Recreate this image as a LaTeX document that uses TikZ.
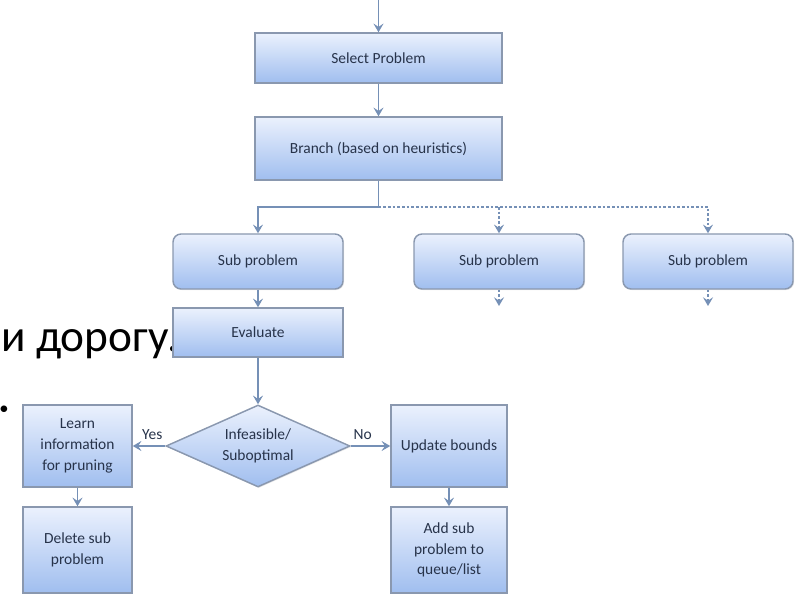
\documentclass[tikz,border=0pt]{standalone}
\usepackage{fontspec}
\setmainfont{Carlito}
\usetikzlibrary{arrows.meta,shapes.geometric,shadows}
\definecolor{boxtop}{HTML}{EBF1FD}
\definecolor{boxbot}{HTML}{A0BEEF}
\definecolor{boxedge}{HTML}{8A98AF}
\definecolor{txt}{HTML}{27334A}
\definecolor{conncol}{HTML}{7590B6}
\begin{document}
\begin{tikzpicture}[x=0.75pt,y=-0.75pt,
  boxbase/.style={draw=boxedge, line width=1.1pt, top color=boxtop, bottom color=boxbot,
    text=txt, font=\fontsize{11.6}{15.5}\selectfont, align=center, inner sep=2pt,
    drop shadow={opacity=0.2,shadow xshift=0.8pt,shadow yshift=-0.8pt}},
  rbox/.style={boxbase, rectangle},
  roundbox/.style={boxbase, rectangle, rounded corners=6pt},
  decision/.style={boxbase, diamond, shape aspect=2.2, inner sep=0pt},
  conn/.style={draw=conncol, line width=1.2pt},
  arr/.style={conn, -{Stealth[length=6.5pt,width=7.5pt,inset=2.5pt]}},
  dsh/.style={dash pattern=on 2pt off 1.5pt},
  lbl/.style={text=txt, font=\fontsize{11.6}{14}\selectfont, inner sep=2pt, yshift=2pt}
]
\useasboundingbox (0,0) rectangle (796,595);

% slide text fragments
\node[anchor=base west, font=\fontsize{34}{38}\selectfont, inner sep=0pt] (rus) at (1,351) {и дорогу.};
\node[font=\fontsize{14}{14}\selectfont, inner sep=0pt] (bul) at (4,410) {•};

% boxes
\node[rbox, minimum width=185.25pt, minimum height=37.5pt] (sel) at (378.5,58) {Select Problem};
\node[rbox, minimum width=185.25pt, minimum height=47.25pt] (br) at (378.5,148.5) {Branch (based on heuristics)};
\node[roundbox, minimum width=127.5pt, minimum height=41.25pt] (sub1) at (258,261.5) {Sub problem};
\node[roundbox, minimum width=127.5pt, minimum height=41.25pt] (sub2) at (499,261.5) {Sub problem};
\node[roundbox, minimum width=127.5pt, minimum height=41.25pt] (sub3) at (708,261.5) {Sub problem};
\node[rbox, minimum width=127.5pt, minimum height=36.75pt] (eval) at (258,332.5) {Evaluate};
\node[decision, minimum width=138pt, minimum height=61.5pt] (dia) at (258,446) {Infeasible/\\Suboptimal};
\node[rbox, minimum width=81.75pt, minimum height=61.5pt] (learn) at (77.5,446) {Learn\\information\\for pruning};
\node[rbox, minimum width=81.75pt, minimum height=64.5pt] (del) at (77.5,550) {Delete sub\\problem};
\node[rbox, minimum width=87pt, minimum height=61.5pt] (upd) at (449,446) {Update bounds};
\node[rbox, minimum width=87pt, minimum height=64.5pt] (add) at (449,550) {Add sub\\problem to\\queue/list};

% connectors
\coordinate (topin) at (378.5,0);
\coordinate (split) at (378.5,207);
\coordinate (s2o) at (499,306);
\coordinate (s3o) at (708,306);
\draw[arr] (topin) -- (sel.north);
\draw[arr] (sel) -- (br);
\draw[conn] (br.south) -- (split);
\draw[arr] (split) -| (sub1.north);
\draw[arr,dsh] (split) -| (sub3.north);
\draw[arr,dsh] (split -| sub2.north) -- (sub2.north);
\draw[arr,dsh] (sub2.south) -- (s2o);
\draw[arr,dsh] (sub3.south) -- (s3o);
\draw[arr] (sub1) -- (eval);
\draw[arr] (eval) -- (dia);
\draw[arr] (dia) -- node[lbl,pos=0.4,above] {Yes} (learn);
\draw[arr] (dia) -- node[lbl,pos=0.3,above] {No} (upd);
\draw[arr] (learn) -- (del);
\draw[arr] (upd) -- (add);
\end{tikzpicture}
\end{document}
